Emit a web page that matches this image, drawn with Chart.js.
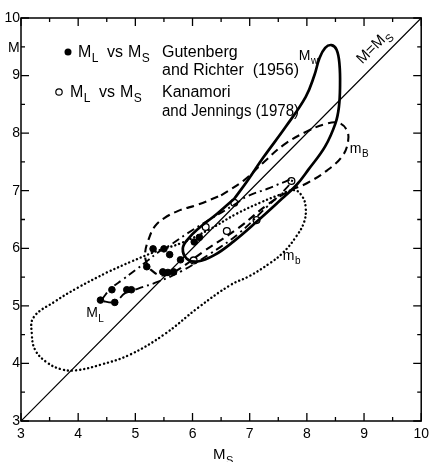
<!DOCTYPE html>
<html>
<head>
<meta charset="utf-8">
<script src="https://cdn.jsdelivr.net/npm/chart.js@4/dist/chart.umd.min.js"></script>
<style>
  html, body { margin: 0; padding: 0; background: #fff; }
</style>
</head>
<body>
<canvas id="magChart" width="434" height="462"></canvas>
<script>
const xTicks = [3, 4, 5, 6, 7, 8, 9, 10];
const yTicks = [3, 4, 5, 6, 7, 8, 9, 10];

// ML vs MS, Gutenberg and Richter (1956)
const grMs = [4.39, 4.59, 4.64, 4.85, 4.93, 5.20, 5.31, 5.50, 5.60, 5.48, 5.57, 5.67, 5.79, 6.03, 6.12];
const grMl = [5.10, 5.28, 5.06, 5.28, 5.28, 5.68, 5.99, 5.99, 5.89, 5.59, 5.58, 5.59, 5.80, 6.11, 6.19];

// ML vs MS, Kanamori and Jennings (1978)
const kjMs = [6.02, 6.23, 6.60, 6.73, 7.12, 7.73];
const kjMl = [5.79, 6.37, 6.30, 6.79, 6.49, 7.17];

// envelopes, [Ms, M]
const diagonal = [[3, 3], [10, 10]];
const mwCurve = [[6.73, 6.86], [6.98, 7.2], [7.24, 7.58], [7.63, 8.11], [7.98, 8.63], [8.13, 9.0], [8.22, 9.3],
  [8.32, 9.48], [8.43, 9.53], [8.52, 9.45], [8.57, 9.2], [8.58, 8.8], [8.56, 8.45], [8.5, 8.17],
  [8.32, 7.77], [8.03, 7.37], [7.81, 7.09], [7.52, 6.82], [7.12, 6.46], [6.72, 6.12], [6.38, 5.88],
  [6.09, 5.77], [5.9, 5.82], [5.83, 6.0], [5.92, 6.16], [6.1, 6.34], [6.43, 6.6], [6.73, 6.86]];
const mBCurve = [[6.5, 6.92], [6.9, 7.18], [7.25, 7.5], [7.6, 7.8], [8.0, 8.03], [8.3, 8.15], [8.55, 8.18],
  [8.7, 8.05], [8.72, 7.85], [8.62, 7.6], [8.35, 7.35], [8.0, 7.13], [7.7, 7.0], [7.3, 6.75],
  [6.8, 6.35], [6.2, 5.95], [5.7, 5.6], [5.45, 5.53], [5.28, 5.62], [5.2, 5.74], [5.17, 5.91],
  [5.23, 6.15], [5.34, 6.38], [5.5, 6.52], [5.75, 6.65], [6.1, 6.76], [6.5, 6.92]];
const mbCurve = [[4.5, 5.58], [4.93, 5.77], [5.4, 5.96], [5.8, 6.09], [6.3, 6.33], [6.77, 6.6], [7.2, 6.8],
  [7.5, 6.92], [7.78, 7.01], [7.92, 6.9], [7.98, 6.7], [7.95, 6.45], [7.81, 6.2], [7.58, 5.92],
  [7.35, 5.74], [7.0, 5.52], [6.66, 5.36], [6.1, 4.97], [5.5, 4.5], [4.9, 4.15], [4.4, 3.98],
  [3.96, 3.88], [3.7, 3.9], [3.45, 4.02], [3.25, 4.23], [3.19, 4.5], [3.22, 4.8], [3.6, 5.08],
  [4.0, 5.32], [4.5, 5.58]];
const mlCurve = [[4.42, 5.12], [4.57, 5.3], [4.77, 5.45], [5.0, 5.62], [5.22, 5.79], [5.4, 5.93],
  [5.6, 6.05], [5.91, 6.26], [6.3, 6.5], [6.72, 6.75], [6.95, 6.9], [7.3, 7.03], [7.6, 7.15],
  [7.75, 7.2], [7.6, 7.0], [7.3, 6.72], [6.8, 6.25], [6.3, 5.9], [5.8, 5.6], [5.4, 5.42],
  [5.05, 5.3], [4.82, 5.22], [4.65, 5.07], [4.45, 5.08], [4.42, 5.12]];

// curve labels: text, subscript, Ms, M (left end of baseline)
const curveLabels = [
  ['M', 'w', 7.86, 9.27],
  ['m', 'B', 8.75, 7.65],
  ['m', 'b', 7.58, 5.8],
  ['M', 'L', 4.14, 4.80]
];

const FONT = '"Liberation Sans", Arial, sans-serif';

function curveSet(points, width, dash, cap) {
  return {
    data: points.map(([x, y]) => ({ x, y })),
    showLine: true,
    borderColor: '#000',
    borderWidth: width,
    borderDash: dash,
    borderCapStyle: cap || 'butt',
    pointRadius: 0,
    tension: 0.4,
    fill: false
  };
}

function subText(ctx, x, y, main, sub, size) {
  ctx.font = size + 'px ' + FONT;
  ctx.fillText(main, x, y);
  const w = ctx.measureText(main).width;
  ctx.font = Math.round(size * 0.72) + 'px ' + FONT;
  ctx.fillText(sub, x + w + 0.5, y + size * 0.3);
  return x + w + ctx.measureText(sub).width;
}

const decor = {
  id: 'decor',
  afterDraw(chart) {
    const { ctx, chartArea: a, scales: { x, y } } = chart;
    ctx.save();
    ctx.strokeStyle = '#000';
    ctx.fillStyle = '#000';
    ctx.lineWidth = 1.5;
    ctx.strokeRect(a.left, a.top, a.right - a.left, a.bottom - a.top);

    // inward ticks on all four sides, minor at the halves
    ctx.lineWidth = 1.3;
    const marks = [];
    xTicks.forEach((v, i) => {
      marks.push([v, 8]);
      if (i < xTicks.length - 1) marks.push([(v + xTicks[i + 1]) / 2, 4]);
    });
    ctx.beginPath();
    marks.forEach(([v, len]) => {
      const px = x.getPixelForValue(v), py = y.getPixelForValue(v);
      ctx.moveTo(px, a.bottom); ctx.lineTo(px, a.bottom - len);
      ctx.moveTo(px, a.top); ctx.lineTo(px, a.top + len);
      ctx.moveTo(a.left, py); ctx.lineTo(a.left + len, py);
      ctx.moveTo(a.right, py); ctx.lineTo(a.right - len, py);
    });
    ctx.stroke();

    // axis titles
    ctx.textAlign = 'left';
    ctx.textBaseline = 'alphabetic';
    ctx.font = '14px ' + FONT;
    ctx.fillText('M', 8, 52);
    subText(ctx, 213, 459, 'M', 'S', 15);

    // legend
    ctx.beginPath();
    ctx.arc(68, 52, 3.5, 0, Math.PI * 2);
    ctx.fill();
    ctx.beginPath();
    ctx.lineWidth = 1.2;
    ctx.arc(59, 92, 3.2, 0, Math.PI * 2);
    ctx.stroke();
    subText(ctx, 78, 57, 'M', 'L', 16);
    ctx.font = '16px ' + FONT;
    ctx.fillText('vs', 107, 57);
    subText(ctx, 128, 57, 'M', 'S', 16);
    ctx.font = '16px ' + FONT;
    ctx.fillText('Gutenberg', 162, 57);
    ctx.fillText('and Richter  (1956)', 162, 75, 137);
    subText(ctx, 70, 97, 'M', 'L', 16);
    ctx.font = '16px ' + FONT;
    ctx.fillText('vs', 99, 97);
    subText(ctx, 120, 97, 'M', 'S', 16);
    ctx.font = '16px ' + FONT;
    ctx.fillText('Kanamori', 162, 97);
    ctx.fillText('and Jennings (1978)', 162, 116, 137);

    // curve labels
    curveLabels.forEach(([m, s, lx, ly]) => {
      subText(ctx, x.getPixelForValue(lx), y.getPixelForValue(ly), m, s, 14);
    });

    // M=MS along the diagonal
    const x0 = x.getPixelForValue(9.08), y0 = y.getPixelForValue(9.08);
    const ang = Math.atan2(y.getPixelForValue(10) - y.getPixelForValue(3), x.getPixelForValue(10) - x.getPixelForValue(3));
    ctx.translate(x0, y0);
    ctx.rotate(ang);
    subText(ctx, 0, -9, 'M=M', 'S', 15);
    ctx.restore();
  }
};

new Chart(document.getElementById('magChart'), {
  type: 'scatter',
  data: {
    datasets: [
      curveSet(diagonal, 1.2, []),
      curveSet(mbCurve, 2.4, [0.1, 4], 'round'),
      curveSet(mBCurve, 2.1, [8, 5]),
      curveSet(mlCurve, 1.9, [8, 4, 2, 4]),
      curveSet(mwCurve, 2.7, []),
      {
        data: grMs.map((v, i) => ({ x: v, y: grMl[i] })),
        showLine: false,
        pointRadius: 3.3,
        pointBackgroundColor: '#000',
        pointBorderColor: '#000'
      },
      {
        data: kjMs.map((v, i) => ({ x: v, y: kjMl[i] })),
        showLine: false,
        pointRadius: 3.4,
        pointBorderWidth: 1.3,
        pointBackgroundColor: '#fff',
        pointBorderColor: '#000'
      }
    ]
  },
  options: {
    responsive: false,
    devicePixelRatio: 1,
    animation: false,
    layout: { padding: { top: 18, right: 6, left: 0, bottom: 0 } },
    plugins: { legend: { display: false }, tooltip: { enabled: false } },
    scales: {
      x: {
        type: 'linear', min: 3, max: 10,
        afterFit: s => { s.height = 41; },
        afterBuildTicks: s => { s.ticks = xTicks.map(v => ({ value: v })); },
        grid: { display: false, drawTicks: false },
        border: { display: false },
        ticks: { autoSkip: false, maxRotation: 0, padding: 5, color: '#000', font: { family: FONT, size: 14 } }
      },
      y: {
        type: 'linear', min: 3, max: 10,
        afterFit: s => { s.width = 21; },
        afterBuildTicks: s => { s.ticks = yTicks.map(v => ({ value: v })); },
        grid: { display: false, drawTicks: false },
        border: { display: false },
        ticks: { autoSkip: false, padding: 1, color: '#000', font: { family: FONT, size: 14 } }
      }
    }
  },
  plugins: [decor]
});
</script>
</body>
</html>
